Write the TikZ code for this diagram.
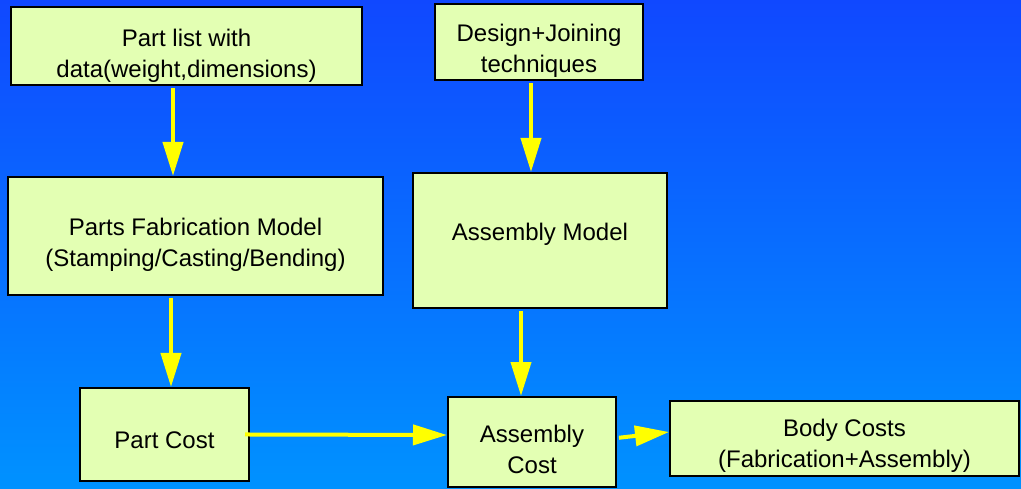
\documentclass[tikz,border=0pt]{standalone}
\usepackage{fontspec}
\setmainfont{Liberation Sans}
\usetikzlibrary{arrows.meta}
\definecolor{boxfill}{HTML}{E3FFB3}
\definecolor{bgtop}{HTML}{1048FF}
\definecolor{bgbot}{HTML}{0092FF}
\definecolor{arr}{HTML}{FFFF00}
\newcommand{\boxtext}[2]{\raisebox{#1}[\height][\depth]{\begin{tabular}{@{}c@{}}#2\end{tabular}}}
\begin{document}
\begin{tikzpicture}[x=1pt,y=-1pt,
  box/.style={draw=black, line width=2pt, fill=boxfill, inner sep=0pt, align=center,
    font=\fontsize{24}{31}\selectfont},
  flow/.style={draw=arr, line width=4pt, -{Triangle[length=34pt,width=20pt]}, shorten <=2pt}]
\shade[top color=bgtop, bottom color=bgbot] (0,0) rectangle (1021,489);
\useasboundingbox (0,0) rectangle (1021,489);

\node[box, minimum width=351pt, minimum height=78pt] (plist) at (186.5,46) {\boxtext{-10pt}{Part list with\\data(weight,dimensions)}};
\node[box, minimum width=208pt, minimum height=76pt] (design) at (539,42) {\boxtext{-9pt}{Design+Joining\\techniques}};
\node[box, minimum width=375pt, minimum height=118pt] (pfab) at (195.5,236) {\boxtext{-9pt}{Parts Fabrication Model\\(Stamping/Casting/Bending)}};
\node[box, minimum width=254pt, minimum height=135pt] (amodel) at (540,240.5) {\boxtext{6pt}{Assembly Model\hspace{14pt}}};
\node[box, minimum width=169pt, minimum height=93pt] (pcost) at (164.5,434.5) {\boxtext{-8pt}{Part Cost}};
\node[box, minimum width=168pt, minimum height=90pt] (acost) at (532,442) {\boxtext{-10pt}{Assembly\\Cost}};
\node[box, minimum width=349pt, minimum height=75pt] (body) at (844.5,438.5) {\boxtext{-7.5pt}{Body Costs\\(Fabrication+Assembly)}};

\draw[flow] ([xshift=-13.5pt]plist.south) -- ([xshift=-22.5pt]pfab.north);
\draw[flow] ([xshift=-8pt]design.south) -- ([xshift=-9pt]amodel.north);
\draw[flow] ([xshift=-24.5pt]pfab.south) -- ([xshift=6.5pt]pcost.north);
\draw[flow] ([xshift=-19pt]amodel.south) -- ([xshift=-11pt]acost.north);
\draw[flow, shorten <=-5pt] (pcost.east) -- ([yshift=7pt]acost.west);
\draw[flow] ([yshift=4pt]acost.east) -- ([yshift=6.5pt]body.west);
\end{tikzpicture}
\end{document}
